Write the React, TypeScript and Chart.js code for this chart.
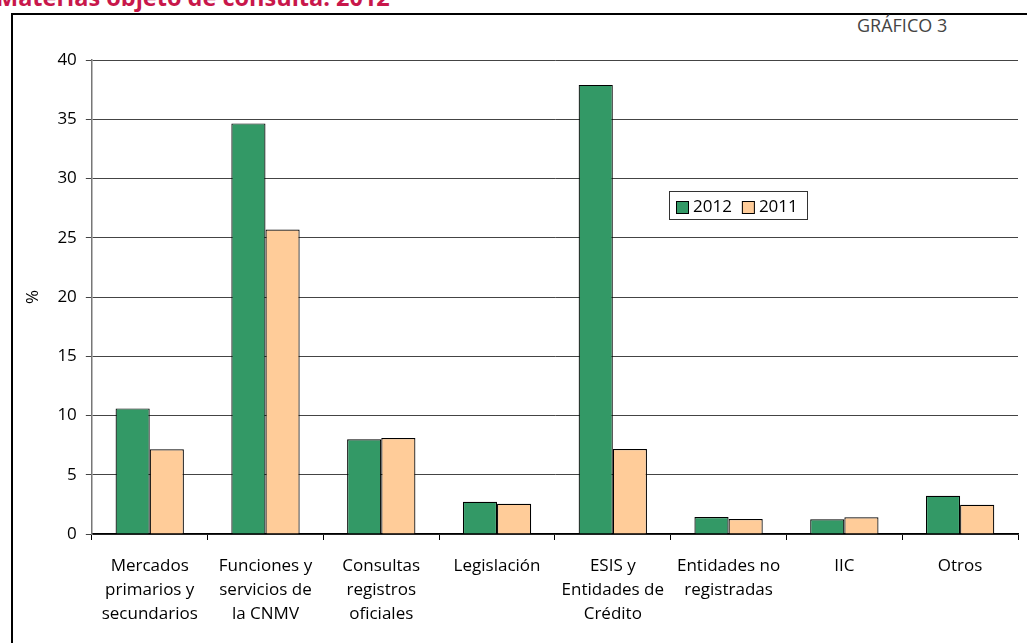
import React, { useEffect, useRef } from "react";
import { Chart, registerables } from "chart.js";

Chart.register(...registerables);

const categories: string[][] = [
  ["Mercados", "primarios y", "secundarios"],
  ["Funciones y", "servicios de", "la CNMV"],
  ["Consultas", "registros", "oficiales"],
  ["Legislación"],
  ["ESIS y", "Entidades de", "Crédito"],
  ["Entidades no", "registradas"],
  ["IIC"],
  ["Otros"],
];
const values2012: number[] = [10.6, 34.65, 8.0, 2.72, 37.9, 1.43, 1.24, 3.23];
const values2011: number[] = [7.15, 25.7, 8.1, 2.55, 7.17, 1.27, 1.41, 2.47];
const yTicks: number[] = [0, 5, 10, 15, 20, 25, 30, 35, 40];

const FONT = "'Open Sans', 'Noto Sans', sans-serif";
const GREEN = "#339966";
const ORANGE = "#FFCC99";

const legendPlugin = {
  id: "innerLegend",
  afterDraw(chart: any) {
    const ctx = chart.ctx;
    const x = 669, y = 191, w = 138, h = 28;
    ctx.save();
    ctx.fillStyle = "#fff";
    ctx.fillRect(x, y, w, h);
    ctx.strokeStyle = "#333";
    ctx.lineWidth = 1;
    ctx.strokeRect(x + 0.5, y + 0.5, w, h);
    ctx.font = `17px ${FONT}`;
    ctx.textBaseline = "middle";
    let cx = x + 7;
    chart.data.datasets.forEach((ds: any) => {
      ctx.fillStyle = ds.backgroundColor;
      ctx.fillRect(cx, y + 10, 13, 13);
      ctx.strokeStyle = "#000";
      ctx.strokeRect(cx + 0.5, y + 10.5, 12, 12);
      ctx.fillStyle = "#000";
      ctx.fillText(ds.label, cx + 17, y + 16);
      cx += 17 + ctx.measureText(ds.label).width + 10;
    });
    ctx.restore();
  },
};

export default function App() {
  const ref = useRef<HTMLCanvasElement | null>(null);
  useEffect(() => {
    if (!ref.current) return;
    const chart = new Chart(ref.current, {
      type: "bar",
      data: {
        labels: categories,
        datasets: [
          { label: "2012", data: values2012, backgroundColor: GREEN, borderColor: "#000", borderWidth: 1.2 },
          { label: "2011", data: values2011, backgroundColor: ORANGE, borderColor: "#000", borderWidth: 1.2 },
        ],
      },
      options: {
        animation: false,
        responsive: false,
        maintainAspectRatio: false,
        layout: { padding: { left: 23, right: 9, top: 60, bottom: 3 } },
        plugins: {
          legend: { display: false },
          tooltip: { enabled: false },
        },
        datasets: { bar: { categoryPercentage: 0.59, barPercentage: 1.0 } },
        scales: {
          x: {
            grid: { offset: true, drawOnChartArea: false, drawTicks: true, tickLength: 6, color: "#000" },
            border: { color: "#000", width: 1.5 },
            ticks: {
              color: "#000",
              font: { family: FONT, size: 17, lineHeight: 24 / 17 },
              maxRotation: 0,
              autoSkip: false,
              padding: 14,
            },
          },
          y: {
            min: 0,
            max: 40,
            afterBuildTicks: (axis: any) => {
              axis.ticks = yTicks.map((v) => ({ value: v }));
            },
            grid: { color: "#444", lineWidth: 1, tickLength: 6 },
            border: { color: "#777", width: 1.5 },
            ticks: { color: "#000", font: { family: FONT, size: 17 }, padding: 9 },
            title: {
              display: true,
              text: "%",
              color: "#000",
              font: { family: FONT, size: 17 },
              padding: { top: 0, bottom: 5 },
            },
          },
        },
      },
      plugins: [legendPlugin],
    });
    return () => chart.destroy();
  }, []);

  return (
    <div style={{ position: "fixed", left: 0, top: 0, width: 1027, height: 643, overflow: "hidden", background: "#fff" }}>
      <div
        style={{
          position: "absolute",
          left: -4,
          top: -19,
          color: "#c8174b",
          fontFamily: FONT,
          fontWeight: 700,
          fontSize: 23.5,
          whiteSpace: "nowrap",
        }}
      >
        Materias objeto de consulta. 2012
      </div>
      <div
        style={{
          position: "absolute",
          left: 11,
          top: 13,
          width: 1040,
          height: 660,
          border: "2px solid #000",
          boxSizing: "border-box",
        }}
      />
      <div
        style={{
          position: "absolute",
          left: 857,
          top: 13,
          color: "#444",
          fontFamily: FONT,
          fontSize: 18,
          whiteSpace: "nowrap",
        }}
      >
        GRÁFICO 3
      </div>
      <canvas ref={ref} width={1027} height={643} style={{ position: "absolute", left: 0, top: 0 }} />
    </div>
  );
}
